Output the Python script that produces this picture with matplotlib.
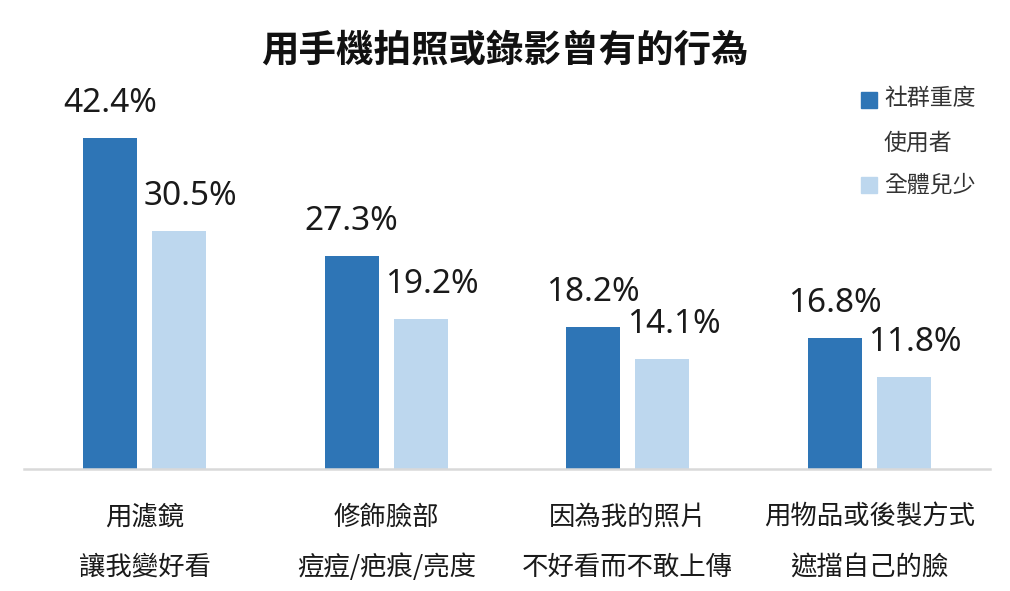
import matplotlib
matplotlib.use('Agg')
import matplotlib.pyplot as plt
from matplotlib.patches import Rectangle
import numpy as np

plt.rcParams['font.family'] = ['Noto Sans CJK TC', 'DejaVu Sans']

title = '用手機拍照或錄影曾有的行為'
cat_line1 = ['用濾鏡', '修飾臉部', '因為我的照片', '用物品或後製方式']
cat_line2 = ['讓我變好看', '痘痘/疤痕/亮度', '不好看而不敢上傳', '遮擋自己的臉']
heavy_users = [42.4, 27.3, 18.2, 16.8]
all_youth = [30.5, 19.2, 14.1, 11.8]
series_names = ['社群重度\n使用者', '全體兒少']

dark = '#2E75B6'
light = '#BDD7EE'

fig = plt.figure(figsize=(10.1, 5.91), dpi=100)
W, H = 1010, 591
ax = fig.add_axes([24 / W, (H - 469) / H, 966 / W, 390 / H])

x = np.arange(len(cat_line1))
w = 0.224
off = 0.143
b1 = ax.bar(x - off, heavy_users, w, color=dark)
b2 = ax.bar(x + off, all_youth, w, color=light)

# value labels
for bars, vals, dx in [(b1, heavy_users, 0), (b2, all_youth, 8)]:
    for rect, v in zip(bars, vals):
        ax.annotate(f'{v}%', (rect.get_x() + rect.get_width() / 2, v),
                    xytext=(dx, 19), textcoords='offset points',
                    ha='center', va='baseline', fontsize=24,
                    family=['Noto Sans', 'DejaVu Sans'], color='#1a1a1a',
                    annotation_clip=False)

ax.set_xlim(-0.5, len(cat_line1) - 0.5)
ax.set_ylim(0, 50)
for s in ['top', 'right', 'left']:
    ax.spines[s].set_visible(False)
ax.spines['bottom'].set_color('#D9D9D9')
ax.spines['bottom'].set_linewidth(1.8)
ax.set_xticks([])
ax.set_yticks([])

# category labels, two lines
for i in x:
    ax.text(i, -48 / 390, cat_line1[i], transform=ax.get_xaxis_transform(),
            ha='center', va='center', fontsize=19, color='#1a1a1a')
    ax.text(i, -98 / 390, cat_line2[i], transform=ax.get_xaxis_transform(),
            ha='center', va='center', fontsize=19, color='#1a1a1a')

fig.text(505 / W, 1 - 50 / H, title, ha='center', va='center',
         fontsize=27, fontweight='bold', color='#111111')

# legend
fig.patches.append(Rectangle((861 / W, 1 - 108 / H), 16 / W, 16 / H,
                             color=dark, transform=fig.transFigure))
fig.patches.append(Rectangle((861 / W, 1 - 193 / H), 16 / W, 16 / H,
                             color=light, transform=fig.transFigure))
n1, n1b = series_names[0].split('\n')
fig.text(884 / W, 1 - 99 / H, n1, ha='left', va='center', fontsize=16.5, color='#333333')
fig.text(884 / W, 1 - 143 / H, n1b, ha='left', va='center', fontsize=16.5, color='#333333')
fig.text(884 / W, 1 - 185 / H, series_names[1], ha='left', va='center', fontsize=16.5, color='#333333')

fig.savefig('out.png', dpi=100)
